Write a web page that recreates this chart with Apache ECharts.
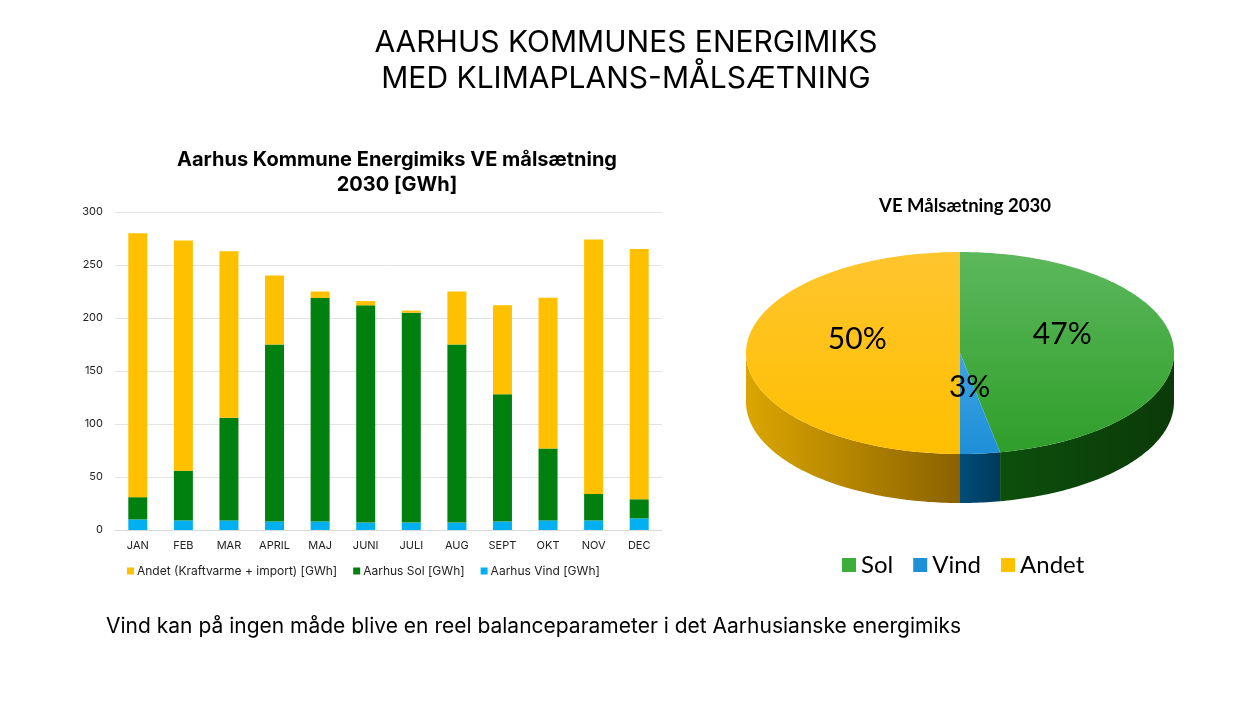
<!DOCTYPE html>
<html>
<head>
<meta charset="utf-8">
<script src="https://cdn.jsdelivr.net/npm/echarts@6/dist/echarts.min.js"></script>
<style>
	html, body {margin: 0; padding: 0; background: #fff;}
	#chart {width: 1250px; height: 703px;}
</style>
</head>
<body>
<div id="chart"></div>
<script>
var months = ['JAN', 'FEB', 'MAR', 'APRIL', 'MAJ', 'JUNI', 'JULI', 'AUG', 'SEPT', 'OKT', 'NOV', 'DEC'];
var vindValues = [10, 9, 9, 8, 8, 7, 7, 7, 8, 9, 9, 11];
var solValues = [21, 47, 97, 167, 211, 205, 198, 168, 120, 68, 25, 18];
var andetValues = [249, 217, 157, 65, 6, 4, 2, 50, 84, 142, 240, 236];
var yTicks = [0, 50, 100, 150, 200, 250, 300];

var pieNames = ['Sol', 'Vind', 'Andet'];
var pieValues = [47, 3, 50];

var barNames = ['Andet (Kraftvarme + import) [GWh]', 'Aarhus Sol [GWh]', 'Aarhus Vind [GWh]'];

var chart = echarts.init(document.getElementById('chart'));

// 3D pie look: top ellipse + front side band
var pie = {cx: 960, cy: 353, rx: 214, ry: 101, depth: 49};
var pieStyle = [
	{legend: '#3cae3a', top: ['#5cb85c', '#2f9e2a'], side: ['#0c4f0c', '#0b3a08']},
	{legend: '#1e90d8', top: ['#3ea3e2', '#1e8fd8'], side: ['#004d7a', '#003a5c']},
	{legend: '#ffc000', top: ['#ffc52e', '#ffbf00'], side: ['#dba600', '#8a6200']}
];

function sum(arr) {
	return arr.reduce(function (a, b) { return a + b; }, 0);
}

function rim(a, dy) {
	return [pie.cx + pie.rx * Math.sin(a), pie.cy - pie.ry * Math.cos(a) + (dy || 0)];
}

function arcPoints(a0, a1, dy) {
	var pts = [];
	var n = Math.max(2, Math.ceil((a1 - a0) * 60));
	for (var k = 0; k <= n; k++) {
		pts.push(rim(a0 + (a1 - a0) * k / n, dy));
	}
	return pts;
}

function makeSlice(i) {
	return {
		type: 'custom',
		name: pieNames[i],
		coordinateSystem: 'none',
		itemStyle: {color: pieStyle[i].legend},
		data: [pieValues[i]],
		renderItem: function (params, api) {
			var total = sum(pieValues);
			var before = sum(pieValues.slice(0, i));
			var a0 = before / total * Math.PI * 2;
			var a1 = (before + api.value(0)) / total * Math.PI * 2;
			var children = [];

			var s = Math.max(a0, Math.PI / 2);
			var e = Math.min(a1, Math.PI * 1.5);
			if (e > s) {
				var sidePts = arcPoints(s, e, 0).concat(arcPoints(s, e, pie.depth).reverse());
				children.push({
					type: 'polygon',
					shape: {points: sidePts},
					style: {
						fill: new echarts.graphic.LinearGradient(0, 0, 1, 0, [
							{offset: 0, color: pieStyle[i].side[0]},
							{offset: 1, color: pieStyle[i].side[1]}
						])
					}
				});
			}

			var topPts = [[pie.cx, pie.cy]].concat(arcPoints(a0, a1, 0));
			children.push({
				type: 'polygon',
				shape: {points: topPts},
				style: {
					fill: new echarts.graphic.LinearGradient(0, 0, 0, 1, [
						{offset: 0, color: pieStyle[i].top[0]},
						{offset: 1, color: pieStyle[i].top[1]}
					])
				}
			});

			var mid = (a0 + a1) / 2;
			children.push({
				type: 'text',
				z2: 100,
				style: {
					text: Math.round(api.value(0) / total * 100) + '%',
					x: pie.cx + pie.rx * 0.48 * Math.sin(mid),
					y: pie.cy - pie.ry * 0.48 * Math.cos(mid) - 14,
					fill: '#000',
					fontFamily: 'Lato',
					fontSize: 30,
					align: 'center',
					verticalAlign: 'middle'
				}
			});

			return {type: 'group', children: children};
		}
	};
}

var options = {
	backgroundColor: '#fff',
	animation: false,
	title: [
		{
			text: 'AARHUS KOMMUNES ENERGIMIKS\nMED KLIMAPLANS-MÅLSÆTNING',
			left: 621,
			top: 20,
			textAlign: 'center',
			textStyle: {fontFamily: 'Inter', fontSize: 30, fontWeight: 'normal', color: '#000', lineHeight: 36}
		},
		{
			text: 'Aarhus Kommune Energimiks VE målsætning\n2030 [GWh]',
			left: 392,
			top: 142,
			textAlign: 'center',
			textStyle: {fontFamily: 'Inter', fontSize: 20, fontWeight: 'bold', color: '#000', lineHeight: 25}
		},
		{
			text: 'VE Målsætning 2030',
			left: 960,
			top: 192,
			textAlign: 'center',
			textStyle: {fontFamily: 'Lato', fontSize: 18.5, fontWeight: 'bold', color: '#000'}
		},
		{
			text: 'Vind kan på ingen måde blive en reel balanceparameter i det Aarhusianske energimiks',
			left: 101,
			top: 611,
			textStyle: {fontFamily: 'Inter', fontSize: 21, fontWeight: 'normal', color: '#000'}
		}
	],
	legend: [
		{
			data: barNames,
			left: 127,
			top: 565,
			padding: 0,
			itemWidth: 7,
			itemHeight: 7,
			itemGap: 16,
			icon: 'rect',
			textStyle: {fontFamily: 'Inter', fontSize: 12, color: '#222', padding: [0, 0, 0, -2]}
		},
		{
			data: pieNames,
			left: 842,
			top: 553,
			padding: 0,
			itemWidth: 14,
			itemHeight: 14,
			itemGap: 20,
			icon: 'rect',
			textStyle: {fontFamily: 'Lato', fontSize: 24, color: '#000'}
		}
	],
	grid: {left: 115, right: 588, top: 212, bottom: 173},
	xAxis: {
		type: 'category',
		data: months,
		axisLine: {lineStyle: {color: '#d9d9d9'}},
		axisTick: {show: false},
		axisLabel: {fontFamily: 'Inter', fontSize: 11, color: '#222', margin: 10}
	},
	yAxis: {
		type: 'value',
		min: yTicks[0],
		max: yTicks[yTicks.length - 1],
		interval: yTicks[1] - yTicks[0],
		axisLine: {show: false},
		axisTick: {show: false},
		splitLine: {lineStyle: {color: '#e3e3e3'}},
		axisLabel: {fontFamily: 'Inter', fontSize: 11, color: '#222', margin: 12}
	},
	series: [
		{name: barNames[2], type: 'bar', stack: 'mix', barWidth: 19, data: vindValues, itemStyle: {color: '#00b0f0'}},
		{name: barNames[1], type: 'bar', stack: 'mix', barWidth: 19, data: solValues, itemStyle: {color: '#00800f'}},
		{name: barNames[0], type: 'bar', stack: 'mix', barWidth: 19, data: andetValues, itemStyle: {color: '#ffc000'}},
		makeSlice(0),
		makeSlice(1),
		makeSlice(2)
	]
};

chart.setOption(options);
</script>
</body>
</html>
